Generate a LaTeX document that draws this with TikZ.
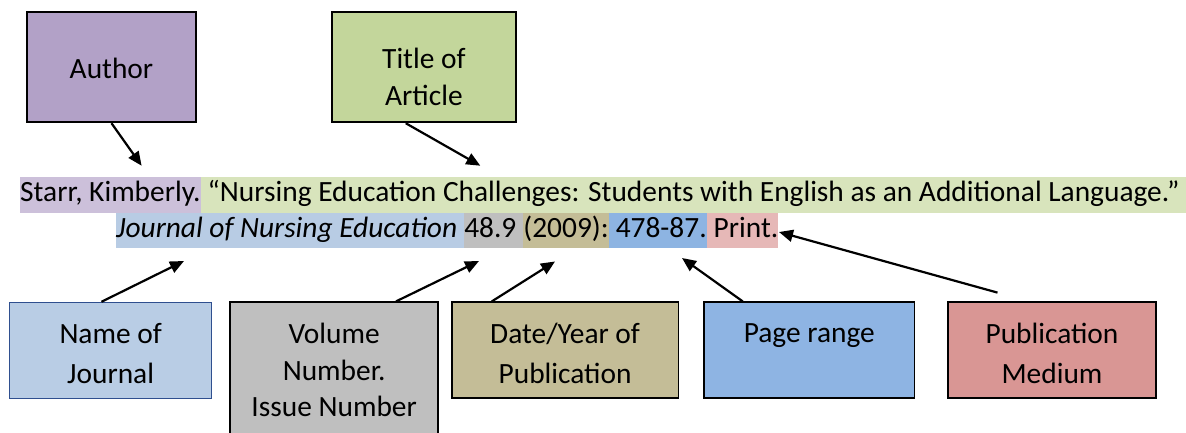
\documentclass[tikz,border=0pt]{standalone}
\usepackage{fontspec}
\setmainfont{Carlito}
\usetikzlibrary{arrows.meta,calc}
\definecolor{authorfill}{HTML}{B2A1C7}
\definecolor{titlefill}{HTML}{C3D69B}
\definecolor{journalfill}{HTML}{B9CDE5}
\definecolor{journalborder}{HTML}{2F4F8F}
\definecolor{volumefill}{HTML}{BFBFBF}
\definecolor{datefill}{HTML}{C4BD97}
\definecolor{pagefill}{HTML}{8EB4E3}
\definecolor{mediumfill}{HTML}{D99694}
\definecolor{hlpurple}{HTML}{CCC0DA}
\definecolor{hlgreen}{HTML}{D8E4BC}
\definecolor{hlblue}{HTML}{B8CCE4}
\definecolor{hlgray}{HTML}{BFBFBF}
\definecolor{hltan}{HTML}{C4BD97}
\definecolor{hlbluetwo}{HTML}{8DB4E2}
\definecolor{hlpink}{HTML}{E6B8B7}
\newcommand\mysp{\kern\fontdimen2\font\relax}
\begin{document}
\begin{tikzpicture}[x=1pt,y=-1pt,
  every node/.style={font=\fontsize{29.4pt}{35pt}\selectfont},
  hl/.style={inner xsep=0pt,inner ysep=0pt,text height=24.5pt,text depth=11.3pt,anchor=base west},
  box/.style={draw=black,line width=1.8pt,inner sep=0pt},
  lbl/.style={anchor=base,inner sep=0pt},
  arr/.style={line width=2.2pt,-{Triangle[length=14pt,width=12pt]}}]
\clip (0,0) rectangle (1186,432);
\fill[white] (0,0) rectangle (1186,432);
% boxes
\node[box,fill=authorfill,minimum width=169.5pt,minimum height=110pt] (author) at (111.5,67.3) {};
\node[box,fill=titlefill,minimum width=184.2pt,minimum height=110pt] (title) at (423.9,67.3) {};
\node[box,fill=journalfill,draw=journalborder,line width=1pt,minimum width=202.1pt,minimum height=96pt] (journal) at (110.65,350.3) {};
\node[box,fill=volumefill,minimum width=208.3pt,minimum height=137.7pt] (volume) at (334.15,371.15) {};
\node[box,fill=datefill,minimum width=226.8pt,minimum height=96pt] (date) at (565.1,350.3) {};
\node[box,fill=pagefill,minimum width=210.5pt,minimum height=96pt] (page) at (809.25,350.3) {};
\node[box,fill=mediumfill,minimum width=208pt,minimum height=96pt] (medium) at (1052,350.3) {};
% box labels
\node[lbl] (authorT) at (111.5,78) {Author};
\node[lbl] (titleT1) at (423.9,68) {Title of};
\node[lbl] (titleT2) at (423.9,105) {Article};
\node[lbl] (journalT1) at (110.65,343) {Name of};
\node[lbl] (journalT2) at (110.65,383) {Journal};
\node[lbl] (volumeT1) at (334.15,343) {Volume};
\node[lbl] (volumeT2) at (334.15,380) {Number.};
\node[lbl] (volumeT3) at (334.15,416) {Issue Number};
\node[lbl] (dateT1) at (565.1,343) {Date/Year of};
\node[lbl] (dateT2) at (565.1,383) {Publication};
\node[lbl] (pageT) at (809.25,342) {Page range};
\node[lbl] (mediumT1) at (1052,343) {Publication};
\node[lbl] (mediumT2) at (1052,383) {Medium};
% citation lines
\node[hl,fill=hlpurple] (l1a) at (20,201.3) {Starr, Kimberly.};
\node[hl,fill=hlgreen] (l1b) at (l1a.base east) {\mysp“Nursing Education Challenges: Students with English as an Additional Language.”\mysp};
\node[hl,fill=hlblue] (l2a) at (116,237) {\textit{Journal of Nursing Education}\mysp};
\node[hl,fill=hlgray] (l2b) at (l2a.base east) {48.9\mysp};
\node[hl,fill=hltan] (l2c) at (l2b.base east) {(2009):};
\node[hl,fill=hlbluetwo] (l2d) at (l2c.base east) {\mysp478-87.};
\node[hl,fill=hlpink] (l2e) at (l2d.base east) {\mysp Print.};
% arrow tips
\coordinate (tA) at (141.6,165.7);
\coordinate (tT) at (480.3,165.7);
\coordinate (tJ) at (184,261);
\coordinate (tV) at (479,261);
\coordinate (tD) at (555,261.5);
\coordinate (tP) at (682,258);
\coordinate (tM) at (779,232);
\draw[arr] (author.south) -- (tA);
\draw[arr] ([xshift=-18.2pt]title.south) -- (tT);
\draw[arr] ([xshift=-9.2pt]journal.north) -- (tJ);
\draw[arr] ([xshift=61.85pt]volume.north) -- (tV);
\draw[arr] ([xshift=-73.3pt]date.north) -- (tD);
\draw[arr] ([xshift=-66.5pt]page.north) -- (tP);
\draw[arr] ([xshift=-54.5pt,yshift=8.8pt]medium.north) -- (tM);
\end{tikzpicture}
\end{document}
